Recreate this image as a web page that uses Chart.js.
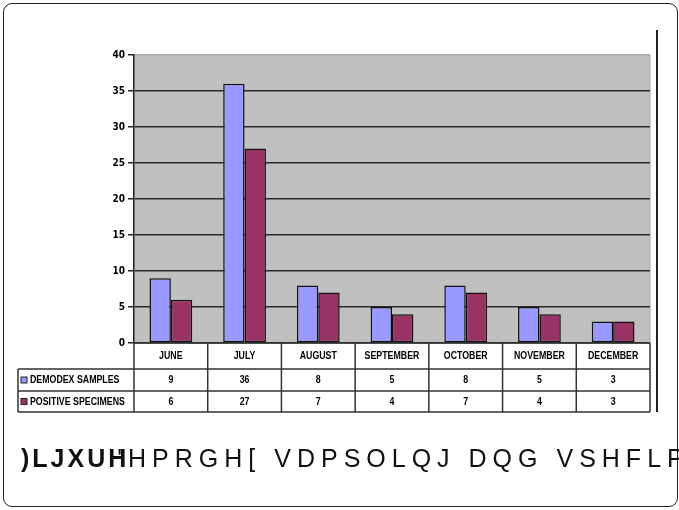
<!DOCTYPE html>
<html>
<head>
<meta charset="utf-8">
<script src="https://cdn.jsdelivr.net/npm/chart.js@4"></script>
<style>
  body { margin: 0; background: #fff; }
  #wrap { position: relative; width: 679px; height: 510px; overflow: hidden; }
  #frame { position: absolute; left: 3px; top: 3px; width: 673px; height: 502px;
           border: 1.5px solid #222; border-radius: 9px; }
  #rule { position: absolute; left: 656px; top: 30px; width: 1.5px; height: 382px; background: #222; }
  #chart { position: absolute; left: 0; top: 0; }
  #caption { position: absolute; left: 21px; top: 444px; white-space: nowrap;
             font-family: 'Liberation Sans', Arial, sans-serif; font-size: 25px;
             letter-spacing: 6px; color: #111; }
  #caption b { letter-spacing: 3px; }
</style>
</head>
<body>
<div id="wrap">
  <div id="frame"></div>
  <div id="rule"></div>
  <canvas id="chart" width="679" height="510"></canvas>
  <div id="caption"><b>)LJXUH</b><span style="margin-left:-12px">'HPRGH[ VDPSOLQJ DQG VSHFLP</span></div>
</div>
<script>
const months = ['JUNE', 'JULY', 'AUGUST', 'SEPTEMBER', 'OCTOBER', 'NOVEMBER', 'DECEMBER'];
const demodexSamples = [9, 36, 8, 5, 8, 5, 3];
const positiveSpecimens = [6, 27, 7, 4, 7, 4, 3];
const seriesNames = ['DEMODEX SAMPLES', 'POSITIVE SPECIMENS'];
const seriesColors = ['#9999ff', '#993366'];

const narrow = "'Liberation Sans Narrow', 'DejaVu Sans Condensed', sans-serif";

// condensed bold text, squeezed horizontally like the original
function narrowText(ctx, text, x, y, align) {
    ctx.save();
    ctx.translate(x, y);
    ctx.scale(0.8, 1);
    ctx.font = "bold 11px 'Liberation Sans', Arial, sans-serif";
    ctx.textAlign = align;
    ctx.textBaseline = 'middle';
    ctx.fillStyle = '#000';
    ctx.fillText(text, 0, 0);
    ctx.restore();
}

// Gray plot area behind the grid
const plotBackground = {
    id: 'plotBackground',
    beforeDraw(chart) {
        const { ctx, chartArea: a } = chart;
        ctx.save();
        ctx.fillStyle = '#c0c0c0';
        ctx.fillRect(a.left, a.top, a.right - a.left, a.bottom - a.top);
        ctx.strokeStyle = '#a8a8a8';
        ctx.lineWidth = 1;
        ctx.beginPath();
        ctx.moveTo(a.right, a.top);
        ctx.lineTo(a.right, a.bottom);
        ctx.stroke();
        ctx.restore();
    }
};

// Data table under the plot, columns follow the category scale
const dataTable = {
    id: 'dataTable',
    afterDraw(chart) {
        const { ctx, chartArea: a } = chart;
        const n = months.length;
        const colW = (a.right - a.left) / n;
        const labelLeft = 18;
        const rows = [a.bottom, a.bottom + 26, a.bottom + 48, a.bottom + 69];

        ctx.save();
        ctx.strokeStyle = '#333';
        ctx.lineWidth = 1.5;
        ctx.beginPath();
        ctx.moveTo(a.left, rows[0]); ctx.lineTo(a.right, rows[0]);
        for (let r = 1; r < rows.length; r++) {
            ctx.moveTo(labelLeft, rows[r]); ctx.lineTo(a.right, rows[r]);
        }
        ctx.moveTo(labelLeft, rows[1]); ctx.lineTo(labelLeft, rows[3]);
        for (let i = 0; i <= n; i++) {
            const x = a.left + i * colW;
            ctx.moveTo(x, rows[0]); ctx.lineTo(x, rows[3]);
        }
        ctx.stroke();

        const xs = chart.scales.x;
        months.forEach((m, i) => {
            const cx = xs.getPixelForValue(i);
            narrowText(ctx, m, cx, (rows[0] + rows[1]) / 2, 'center');
            narrowText(ctx, String(demodexSamples[i]), cx, (rows[1] + rows[2]) / 2, 'center');
            narrowText(ctx, String(positiveSpecimens[i]), cx, (rows[2] + rows[3]) / 2, 'center');
        });

        seriesNames.forEach((name, s) => {
            const cy = (rows[s + 1] + rows[s + 2]) / 2;
            ctx.fillStyle = seriesColors[s];
            ctx.fillRect(21, cy - 3, 6, 6);
            ctx.strokeStyle = '#222';
            ctx.lineWidth = 1;
            ctx.strokeRect(21, cy - 3, 6, 6);
            narrowText(ctx, name, 30, cy, 'left');
        });
        ctx.restore();
    }
};

new Chart(document.getElementById('chart'), {
    type: 'bar',
    data: {
        labels: months,
        datasets: [
            { label: seriesNames[0], data: demodexSamples, backgroundColor: seriesColors[0] },
            { label: seriesNames[1], data: positiveSpecimens, backgroundColor: seriesColors[1] }
        ]
    },
    options: {
        responsive: false,
        animation: false,
        layout: { padding: { top: 55, right: 29, bottom: 167, left: 94 } },
        datasets: {
            bar: {
                categoryPercentage: 0.58,
                barPercentage: 1.0,
                borderColor: '#111',
                borderWidth: 1.5,
                borderSkipped: false
            }
        },
        plugins: {
            legend: { display: false },
            tooltip: { enabled: false }
        },
        scales: {
            x: { display: false },
            y: {
                min: 0,
                max: 40,
                afterFit: (scale) => { scale.width = 40; },
                ticks: {
                    stepSize: 5,
                    color: '#000',
                    padding: 3,
                    font: { family: narrow, size: 10, weight: 'bold' }
                },
                grid: {
                    color: (c) => c.tick && c.tick.value === 40 ? '#a8a8a8' : '#2a2a2a',
                    lineWidth: 1.5,
                    tickLength: 6,
                    tickColor: '#222'
                },
                border: { color: '#222', width: 1.5 }
            }
        }
    },
    plugins: [plotBackground, dataTable]
});
</script>
</body>
</html>
